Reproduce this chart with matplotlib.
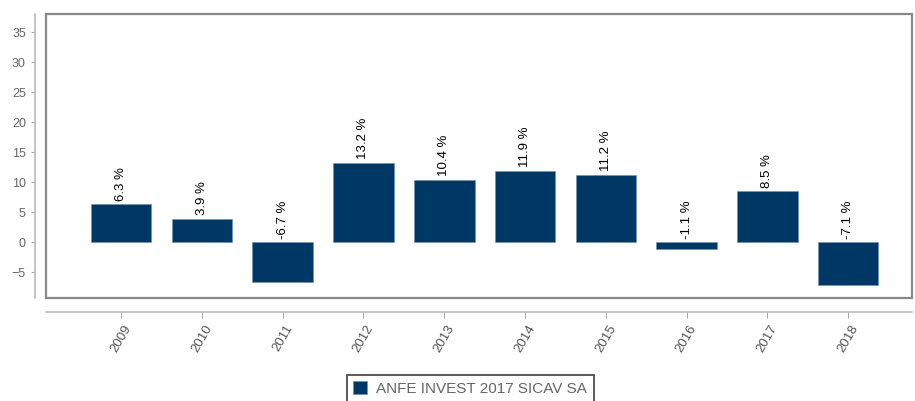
import matplotlib.pyplot as plt
from matplotlib.patches import Rectangle

plt.rcParams['font.family'] = ['Liberation Sans', 'DejaVu Sans']

years = ['2009', '2010', '2011', '2012', '2013', '2014', '2015', '2016', '2017', '2018']
returns = [6.3, 3.9, -6.7, 13.2, 10.4, 11.9, 11.2, -1.1, 8.5, -7.1]
series_name = 'ANFE INVEST 2017 SICAV SA'
yticks = [-5, 0, 5, 10, 15, 20, 25, 30, 35]

navy = '#003865'
grey = '#666666'

fig = plt.figure(figsize=(9.15, 4.01), dpi=100)
ax = fig.add_axes([0.0503, 0.257, 0.9464, 0.708])

# spines first (set_position resets ticks)
for s in ['top', 'right']:
    ax.spines[s].set_visible(False)
ax.spines['left'].set_position(('outward', 8))
ax.spines['bottom'].set_position(('outward', 10))
ax.spines['left'].set_color('#bbbbbb')
ax.spines['bottom'].set_color('#bbbbbb')
ax.spines['left'].set_linewidth(1.2)
ax.spines['bottom'].set_linewidth(1.2)

x = list(range(len(years)))
bars = ax.bar(x, returns, width=0.75, color=navy, edgecolor='#6f8fb0', linewidth=0.4, label=series_name)

for xi, v in zip(x, returns):
    ax.text(xi, max(v, 0) + 0.6, '%.1f %%' % v, rotation=90, ha='center', va='bottom',
            fontsize=9.5, color='black')

ax.set_xlim(-0.93, 9.79)
ax.set_ylim(-9.3, 38)
ax.set_yticks(yticks)
ax.set_xticks(x)
ax.set_xticklabels(years, rotation=60, ha='center', fontsize=9.5, color='#555555')
ax.tick_params(axis='y', labelsize=9, labelcolor=grey, color='#aaaaaa', length=3, width=0.8)
ax.tick_params(axis='x', color='#aaaaaa', length=4, width=0.8, pad=4)

# plot frame
ax.add_patch(Rectangle((0, 0), 1, 1, transform=ax.transAxes, fill=False,
                       edgecolor='#888888', linewidth=1.6, clip_on=False))

leg = fig.legend(handles=[bars], labels=[series_name], loc='upper center',
                 bbox_to_anchor=(0.514, 0.085), fontsize=11, frameon=True,
                 fancybox=False, handlelength=0.9, handleheight=0.9, borderpad=0.45,
                 handletextpad=0.6)
leg.get_frame().set_edgecolor('#222222')
leg.get_frame().set_linewidth(1.3)
for t in leg.get_texts():
    t.set_color(grey)

fig.savefig('out.png', dpi=100)
